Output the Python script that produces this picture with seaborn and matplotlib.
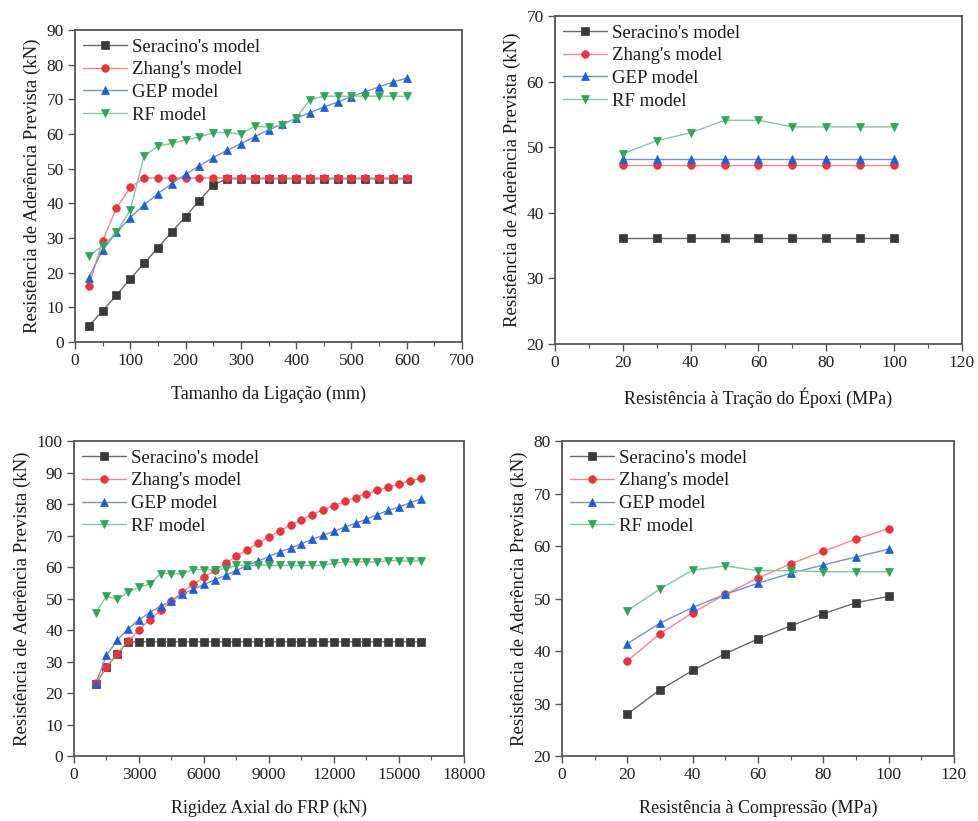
import numpy as np
import pandas as pd
import seaborn as sns
import matplotlib.pyplot as plt
from matplotlib.ticker import MultipleLocator

sns.set_theme(style="ticks")
plt.rcParams["font.family"] = ["Liberation Serif", "DejaVu Serif"]

# ---- Bond length (mm) ----
bond_len = [25, 50, 75, 100, 125, 150, 175, 200, 225, 250, 275, 300,
            325, 350, 375, 400, 425, 450, 475, 500, 525, 550, 575, 600]
bl_seracino = [4.6, 9.0, 13.5, 18.2, 22.7, 27.2, 31.7, 36.2, 40.8, 45.3, 47.1, 47.1,
               47.1, 47.1, 47.1, 47.1, 47.1, 47.1, 47.1, 47.1, 47.1, 47.1, 47.1, 47.1]
bl_zhang = [16.2, 29.2, 38.7, 44.6, 47.3, 47.3, 47.3, 47.3, 47.3, 47.3, 47.3, 47.3,
            47.3, 47.3, 47.3, 47.3, 47.3, 47.3, 47.3, 47.3, 47.3, 47.3, 47.3, 47.3]
bl_gep = [18.6, 26.5, 31.6, 35.9, 39.6, 42.8, 45.7, 48.4, 50.8, 53.2, 55.3, 57.2,
          59.2, 61.2, 62.8, 64.6, 66.1, 67.8, 69.2, 70.8, 72.2, 73.6, 75.0, 76.1]
bl_rf = [24.8, 27.7, 31.6, 38.1, 53.7, 56.5, 57.3, 58.3, 59.1, 60.4, 60.4, 60.0,
         62.2, 62.0, 62.5, 64.6, 69.9, 70.9, 70.9, 70.9, 70.9, 70.9, 70.9, 70.9]

# ---- Epoxy tensile strength (MPa) ----
epoxy = [20, 30, 40, 50, 60, 70, 80, 90, 100]
ep_seracino = [36.2] * 9
ep_zhang = [47.3] * 9
ep_gep = [48.2] * 9
ep_rf = [49.0, 51.0, 52.2, 54.1, 54.1, 53.1, 53.1, 53.1, 53.1]

# ---- FRP axial stiffness (kN) ----
stiff = [1000, 1500, 2000, 2500, 3000, 3500, 4000, 4500, 5000, 5500, 6000,
         6500, 7000, 7500, 8000, 8500, 9000, 9500, 10000, 10500, 11000,
         11500, 12000, 12500, 13000, 13500, 14000, 14500, 15000, 15500, 16000]
st_seracino = [22.9, 28.2, 32.5, 36.3] + [36.3] * 27
st_zhang = [23.1, 28.3, 32.5, 36.4, 40.1, 43.3, 46.2, 49.2, 52.0, 54.5, 56.8,
            58.9, 61.2, 63.4, 65.5, 67.5, 69.5, 71.5, 73.3, 75.0, 76.6,
            78.2, 79.5, 80.8, 82.0, 83.3, 84.3, 85.4, 86.3, 87.3, 88.1]
st_gep = [22.9, 32.0, 36.8, 40.4, 43.3, 45.5, 47.6, 49.3, 51.4, 52.9, 54.5,
          55.9, 57.4, 58.9, 60.5, 61.9, 63.3, 64.8, 66.0, 67.4, 68.8,
          70.1, 71.3, 72.7, 73.9, 75.2, 76.6, 78.0, 79.0, 80.4, 81.6]
st_rf = [45.5, 50.7, 49.7, 52.1, 53.5, 54.7, 57.9, 57.9, 57.8, 59.2, 59.2,
         59.2, 59.4, 60.6, 60.5, 60.5, 60.5, 60.5, 60.5, 60.5, 60.5,
         60.5, 61.2, 61.6, 61.6, 61.6, 61.6, 62.0, 62.0, 61.8, 62.0]

# ---- Concrete compressive strength (MPa) ----
comp = [20, 30, 40, 50, 60, 70, 80, 90, 100]
cp_seracino = [28.0, 32.6, 36.3, 39.5, 42.3, 44.8, 47.1, 49.2, 50.4]
cp_zhang = [38.1, 43.3, 47.3, 50.8, 53.9, 56.6, 59.0, 61.3, 63.3]
cp_gep = [41.4, 45.3, 48.3, 50.8, 52.9, 54.8, 56.4, 57.9, 59.4]
cp_rf = [47.7, 51.8, 55.4, 56.2, 55.3, 55.3, 55.1, 55.1, 55.1]

model_names = ["Seracino's model", "Zhang's model", "GEP model", "RF model"]
marker_colors = ["#3a3a3a", "#e8353c", "#1f5fd6", "#2fa55a"]
line_colors = ["#6a6a6a", "#ee8a8e", "#7a92c4", "#86c79c"]
markers = ["s", "o", "^", "v"]

ylabel = "Resistência de Aderência Prevista (kN)"

panels = [
    dict(rect=(75, 30, 462, 342), x=bond_len,
         ys=[bl_seracino, bl_zhang, bl_gep, bl_rf],
         xlim=(0, 700), xmaj=100, xmin=50, ylim=(0, 90), ymaj=10,
         xlabel="Tamanho da Ligação (mm)"),
    dict(rect=(555, 16, 962, 344), x=epoxy,
         ys=[ep_seracino, ep_zhang, ep_gep, ep_rf],
         xlim=(0, 120), xmaj=20, xmin=10, ylim=(20, 70), ymaj=10,
         xlabel="Resistência à Tração do Époxi (MPa)"),
    dict(rect=(74, 441, 464, 756), x=stiff,
         ys=[st_seracino, st_zhang, st_gep, st_rf],
         xlim=(0, 18000), xmaj=3000, xmin=1500, ylim=(0, 100), ymaj=10,
         xlabel="Rigidez Axial do FRP (kN)"),
    dict(rect=(562, 441, 954, 756), x=comp,
         ys=[cp_seracino, cp_zhang, cp_gep, cp_rf],
         xlim=(0, 120), xmaj=20, xmin=10, ylim=(20, 80), ymaj=10,
         xlabel="Resistência à Compressão (MPa)"),
]

W, H = 979, 821
fig = plt.figure(figsize=(W / 100, H / 100), dpi=100)
fig.patch.set_facecolor("white")

for p in panels:
    l, t, r, b = p["rect"]
    ax = fig.add_axes([l / W, 1 - b / H, (r - l) / W, (b - t) / H])
    for name, y, mc, lc, mk in zip(model_names, p["ys"], marker_colors,
                                   line_colors, markers):
        df = pd.DataFrame({"x": p["x"], "y": y})
        sns.lineplot(data=df, x="x", y="y", ax=ax, color=lc, linewidth=1.0,
                     marker=mk, markersize=5.5, markerfacecolor=mc,
                     markeredgecolor=mc, markeredgewidth=0.5, label=name,
                     errorbar=None)
    ax.set_xlim(*p["xlim"])
    ax.set_ylim(*p["ylim"])
    ax.xaxis.set_major_locator(MultipleLocator(p["xmaj"]))
    ax.xaxis.set_minor_locator(MultipleLocator(p["xmin"]))
    ax.yaxis.set_major_locator(MultipleLocator(p["ymaj"]))
    ax.set_xlabel(p["xlabel"], fontsize=13, labelpad=12, color="#1a1a1a")
    ax.set_ylabel(ylabel, fontsize=13.5, labelpad=4, color="#1a1a1a")
    ax.tick_params(axis="both", which="major", direction="out", length=5,
                   width=1.0, color="#555555", labelsize=12.5,
                   labelcolor="#222222", pad=3)
    ax.tick_params(axis="x", which="minor", direction="out", length=3,
                   width=0.8, color="#555555")
    for s in ax.spines.values():
        s.set_visible(True)
        s.set_color("#555555")
        s.set_linewidth(1.3)
    leg = ax.legend(loc="upper left", frameon=False, fontsize=13.5,
                    handlelength=2.3, handletextpad=0.3, labelspacing=0.3,
                    borderaxespad=0.15, borderpad=0.3)
    for txt in leg.get_texts():
        txt.set_color("#1a1a1a")

fig.savefig("out.png", dpi=100, facecolor="white")
